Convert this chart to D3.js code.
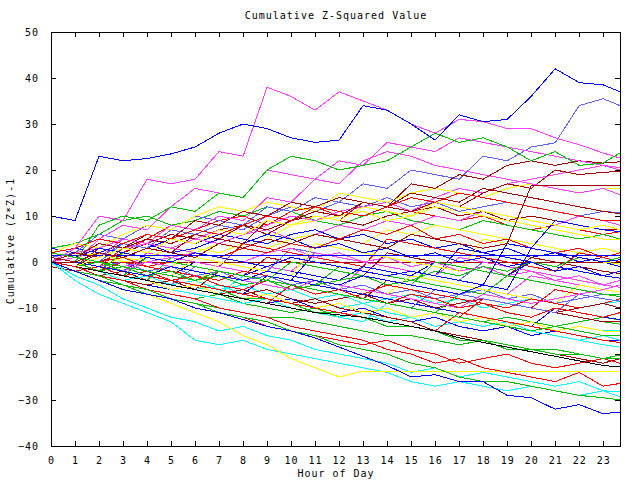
<!DOCTYPE html>
<html>
<head>
<meta charset="utf-8">
<script src="https://cdn.jsdelivr.net/npm/d3@7"></script>
<style>
  body { margin: 0; background: #fff; }
  text { font-family: "DejaVu Sans Mono", monospace; font-size: 10px; letter-spacing: 1px; fill: #000; }
  .trace { fill: none; stroke-width: 1; shape-rendering: crispEdges; }
</style>
</head>
<body>
<svg id="chart" width="640" height="480"></svg>
<script>
// hour of day for every sample
const hours = [0,1,2,3,4,5,6,7,8,9,10,11,12,13,14,15,16,17,18,19,20,21,22,23,23.7];
const hourTicks = d3.range(0, 24);
const valueTicks = [-40,-30,-20,-10,0,10,20,30,40,50];

// cumulative (Z*Z)-1 per hour, one array per trace
const blueTop     = [10,9,23,22,22.5,23.5,25,28,30,29,27,26,26.5,34,33,30,26.5,32,30.5,31,36,42,39,38.5,37];
const magentaTop  = [0,3,10,9,18,17,18,24,23,38,36,33,37,35,33,30,28,31,30.5,29,29,27,25.5,23.7,22.6];
const greenTop    = [1,0,8,10,9,12,11,15,14,20,23,22,20,21,22,25,28,26,27,25,22,24,21,21.5,23.7];
const blueMidTop  = [3,2,6,5,8,7,10,9,8,12,11,14,13,17,16,20,19,18,23,22,25,25.9,34,35.5,34];
const darkRedA    = [2,1,4,3,6,5,9,8,11,10,13,12,14,13,12,17,16,19,18,21,22,21,22,21.5,21.8];
const darkRedB    = [0,-1,2,1,3,2,6,5,4,9,8,10,9,13,12,11,13,12,15,17,16,20,19,19.5,19.7];
const darkRedJump = [1,0,2,1,3,2,1,4,3,5,4,6,5,4,3,6,5,4,3,4,16.6,16.6,16.6,16.6,16.6];
const magentaB    = [1,0,5,8,7,12,16,15,14,20,19,18,17,22,24,23,21,20,19,18,17,16,15,16,14.6];
const yellowA     = [2,4,3,6,8,7,10,12,11,13,12,11,15,14,13,15,16,15,14,16,17,16,15,16,16];
const blueMidB    = [1,2,1,4,3,7,6,8,7,10,12,11,13,12,14,12,13,11,12,13,12,11,10,11,10.7];
const redA        = [0,1,3,2,5,8,7,9,10,8,11,12,10,13,12,11,10,9,10,8,7,8,7,6,6.6];
const magentaC    = [0,2,1,3,4,3,5,7,6,8,10,9,11,12,13,11,14,16,15,17,18,19,20,21,20];
const greenB      = [3,4,6,9,10,8,9,11,10,12,11,9,8,10,11,9,8,7,9,8,7,6,5,6,5];
const redB        = [2,3,5,4,6,5,7,6,8,10,9,12,11,10,12,14,13,15,14,13,12,11,10,9,9];
const darkRedC    = [0,-1,0,2,4,6,5,7,8,6,9,10,9,8,10,11,12,10,11,9,10,9,8,7,7];
const darkRedFlat = [0,0,0,0,0,0,0,0,0,0,0,0,0,0,0,0,0,0,0,0,0,0,0,0,0];
const blueFlat    = [1.5,1.5,1.5,1.5,1.5,1.5,1.5,1.5,1.5,1.5,1.5,1.5,1.5,1.5,1.5,1.5,1.5,1.5,1.5,1.5,1.5,1.5,1.5,1.5,1.5];
const blueB       = [1,0,-1,-2,1,0,-1,-2,-3,-1,-2,-3,-4,-1,-2,-3,0,-1,-2,-3,0,-1,1,0,-1];
const redC        = [0,-1,-2,0,-1,-2,-3,-4,-2,-3,-4,-5,-6,-7,-5,-6,-7,-8,-9,-10,-8,-9,-10,-9,-8];
const magentaD    = [1,0,-1,-2,0,-1,-2,-3,-4,-5,-6,-4,-5,-6,-7,-8,-9,-10,-7,-8,-9,-8,-7,-6,-5];
const yellowB     = [1,0,-1,1,0,-1,3,2,4,3,5,6,5,4,7,6,8,7,6,5,4,3,2,3,2];
const cyanA       = [0,-2,-3,-4,-5,-6,-7,-8,-9,-8,-10,-11,-12,-11,-13,-12,-14,-13,-12,-13,-14,-15,-14,-15,-14.8];
const greenC      = [-1,-2,-4,-5,-6,-7,-8,-7,-9,-10,-11,-10,-12,-11,-13,-12,-11,-12,-13,-12,-13,-14,-13,-12,-12.6];
const darkRedD    = [0,-1,-3,-2,-4,-5,-6,-5,-7,-6,-8,-9,-8,-7,-9,-8,-10,-9,-8,-9,-10,-11,-10,-9,-10];
const cyanB       = [-1,-2,-3,-2,-4,-5,-4,-6,-5,-7,-6,-8,-7,-9,-8,-7,-9,-8,-10,-9,-8,-9,-10,-9,-8.6];
const blueC       = [0,-2,-3,-4,-5,-6,-5,-7,-8,-9,-8,-10,-11,-10,-12,-13,-12,-14,-15,-14,-16,-15,-16,-17,-17];
const redD        = [2,1,0,1,-1,0,2,1,3,2,4,3,5,7,6,8,5,6,4,5,3,2,3,1,2];
const magentaE    = [0,1,0,-1,0,1,2,1,0,2,3,1,2,0,1,-1,0,-2,-1,-3,-2,-4,-3,-5,-4];
const greenD      = [0,-1,0,-2,-3,-2,-4,-3,-5,-4,-6,-5,-4,-3,-5,-4,-2,-3,-1,-2,0,-1,1,0,1];
const blueD       = [2,3,2,4,3,5,4,6,5,4,6,7,5,6,4,5,3,4,2,3,1,2,0,1,0];
const yellowC     = [0,-1,-2,-3,-4,-6,-5,-7,-8,-7,-9,-10,-9,-11,-10,-12,-11,-13,-12,-14,-13,-15,-14,-15,-15];
const blueMidC    = [1,0,-1,0,-2,-1,-3,-2,-4,-3,-5,-4,-6,-5,-7,-6,-8,-7,-6,-8,-7,-9,-8,-7,-7];
const redE        = [0,-2,-1,-3,-2,-4,-3,-5,-6,-4,-5,-7,-6,-8,-9,-7,-8,-10,-9,-11,-12,-10,-11,-12,-11];
const cyanC       = [0,-1,-2,-4,-3,-5,-6,-5,-7,-8,-9,-8,-10,-9,-11,-12,-11,-13,-14,-13,-15,-16,-17,-16,-17];
const greenE      = [1,0,-2,-1,-3,-4,-5,-6,-8,-8,-9,-11,-11,-12,-14,-14,-15,-17,-17,-18,-19,-19,-20,-21,-21];
const redF        = [0,-2,-4,-5,-7,-8,-10,-11,-12,-14,-15,-16,-17,-18,-17,-19,-20,-22,-21,-20,-22,-23,-22,-21,-22];
const magentaF    = [1,2,3,2,4,3,5,4,6,7,5,6,8,7,9,8,10,9,11,10,9,8,10,9,8];
const darkRedE    = [-1,-2,-3,-4,-5,-4,-6,-7,-6,-8,-9,-8,-10,-11,-12,-13,-15,-16,-17,-18,-19,-20,-21,-22,-21];
const blueE       = [3,2,1,3,4,2,3,5,4,6,5,3,4,2,3,1,2,0,1,-1,0,-2,-1,-3,-2];
const yellowD     = [0,1,2,0,1,3,2,4,3,5,8,9,10,11,9,10,12,11,10,9,8,7,6,5,5];
const redG        = [1,0,-1,3,2,1,0,-1,4,3,2,1,0,-1,5,4,3,2,1,0,-1,-2,2,1,0];
const greenG      = [0,-1,-2,-3,-4,1,0,-1,-2,-3,-4,-5,-1,-2,-3,-4,-5,-6,-7,-3,-4,-5,-6,-7,-7.5];
const blueG       = [2,1,0,-1,-2,-3,0,-1,-2,-3,-4,2,1,0,-1,-2,-3,3,2,1,0,-1,-2,-3,-3.5];
const magentaG    = [1,0,-1,-2,2,1,0,-1,-2,-3,-4,-5,-6,-1,-2,-3,-4,-5,-6,-7,-3,-4,-5,-6,-6.5];
const cyanG       = [0,-1,-2,-3,-4,-5,-6,-7,-3,-4,-5,-6,-7,-8,-9,-10,-6,-7,-8,-9,-10,-11,-12,-13,-13.5];
const darkRedG    = [0,-1,3,2,1,0,-1,-2,-3,1,0,-1,-2,-3,2,1,0,-1,-2,-3,1,0,-1,-2,-2.5];
const yellowG     = [1,0,-1,-2,-3,-4,-5,0,-1,-2,-3,-4,-5,-6,-7,-3,-4,-5,-6,-7,-8,-9,-5,-6,-6.5];
const blueMidG    = [2,1,0,4,3,2,1,0,-1,-2,3,2,1,0,-1,-2,-3,-4,0,-1,-2,-3,-4,-5,-5.5];
const redH        = [0,-1,-2,-3,-4,-5,-6,-7,-8,-9,-5,-6,-7,-8,-9,-10,-11,-12,-8,-9,-10,-6,-7,-8,-8.5];
const greenH      = [0,-1,-2,-3,1,0,-1,-2,-3,-4,-5,-6,-7,-8,-9,-10,-11,-7,-8,-9,-10,-11,-12,-13,-13.5];
const blueH       = [1,0,-1,-2,-3,-4,-5,-6,-7,-3,-4,-5,-6,-7,-8,-9,-10,-11,-12,-13,-14,-10,-11,-12,-12.5];
const magentaH    = [3,2,1,5,4,3,2,1,0,-1,-2,2,1,0,-1,-2,-3,1,0,-1,-2,-3,-4,-5,-5.5];
const darkRedH    = [0,-1,-2,-3,-4,-5,-6,-2,-3,-4,-5,-6,-7,-8,-4,-5,-6,-7,-8,-9,-10,-11,-12,-13,-13];
const cyanH       = [0,-1,-2,-3,-4,-5,-6,-7,-8,-9,-10,-11,-12,-13,-9,-10,-11,-12,-13,-14,-15,-16,-17,-18,-18.5];
const yellowH     = [2,1,0,-1,-2,-3,1,0,-1,-2,-3,4,3,2,1,0,-1,-2,5,4,3,2,1,0,-0.5];
const blueMidH    = [0,-1,-2,-3,-4,-5,-1,-2,-3,-4,-5,-6,-7,-8,-9,-10,-6,-7,-8,-9,-10,-11,-7,-8,-8.5];
const redI        = [1,0,-1,-2,-3,-4,-5,-6,-7,-8,-9,-10,-11,-12,-13,-14,-15,-11,-12,-13,-14,-15,-16,-17,-17.5];
const greenI      = [0,-1,-2,2,1,0,-1,-2,-3,-4,0,-1,-2,-3,-4,-5,0,-1,-2,-3,-4,-5,-6,-7,-7];
const magentaI    = [0,1,3,5,4,8,7,10,9,14,13,18,22,21,26,25,24,27,26,25,24,23,22,21,20.5];
const blueI       = [1,0,-1,-2,-3,-1,-2,-3,-4,-2,-3,-4,-5,-3,-4,-5,-6,-7,-5,4,3,9,8,7,6.6];
const blueJ       = [2,1,3,2,1,0,2,1,0,-1,1,0,-1,-2,-3,-2,-3,-4,-5,-6,3,2,1,0,0.5];
const darkRedI    = [0,2,1,3,5,4,6,5,8,7,9,11,10,13,12,15,14,13,16,15,14,13,12,11,10.5];
const yellowI     = [0,-1,1,3,2,5,4,7,6,9,8,10,9,12,11,10,13,12,11,10,9,8,7,8,7];
const greenJ      = [2,1,0,-1,-2,-3,-4,-2,-3,-4,-5,-6,-7,-8,-9,-10,-11,-12,-13,-14,-15,-14,-15,-16,-16];
const blackLine   = [0,-1,-2,-3,-4,-5,-6,-7,-8,-9,-10,-11,-11.5,-12,-13,-14,-15,-16.5,-17.5,-18.5,-19.5,-20.5,-21.5,-22.5,-22.8];
const greenF      = [0,-2,-4,-5,-7,-8,-9,-10,-11,-12,-12,-13,-14,-15,-16,-16,-17,-18,-17,-19,-19,-20,-20,-21,-20.2];
const redLow      = [0,-1,-3,-4,-6,-7,-8,-10,-11,-12,-14,-15,-16,-17,-19,-20,-22,-21,-23,-24,-25,-26,-24,-27,-26.4];
const greenLow    = [0,-2,-3,-5,-6,-8,-9,-11,-12,-13,-15,-16,-18,-19,-20,-22,-23,-25,-26,-26,-27,-28,-29,-29.5,-30];
const cyanLowA    = [0,-4,-7,-9,-11,-13,-17,-18,-17,-19,-20,-21,-22,-23,-24,-26,-27,-26,-27,-28,-27,-28,-29,-28,-29.3];
const cyanLowB    = [0,-3,-5,-8,-10,-12,-13,-15,-14,-16,-17,-19,-20,-21,-22,-24,-23,-25,-24,-25,-26,-27,-26,-28,-28.2];
const yellowLow   = [0,-2,-4,-5,-7,-9,-11,-13,-16,-18,-21,-23,-25,-23.7,-23.7,-23.7,-23.7,-23.7,-23.7,-23.7,-23.7,-23.7,-23.7,-23.7,-23.7];
const navyBottom  = [0,-2,-4,-6,-7,-8,-10,-11,-12.5,-14,-15,-16.5,-18.5,-20.5,-22.5,-25,-24.5,-26,-26,-29,-29.5,-32,-31,-33,-32.6];

const red = "#ff0000", green = "#00c000", blue = "#0000ff", magenta = "#ff40ff",
      cyan = "#00ffff", darkRed = "#a00000", yellow = "#ffff00", midBlue = "#6060ff", black = "#000000";

// drawing order, later traces on top
const traces = [
  darkRedFlat, redA, greenB, blueD, magentaF, cyanB, darkRedC, yellowB, blueMidC,
  redG, greenG, blueG, magentaG, cyanG, darkRedG, yellowG, blueMidG,
  redC, greenC, blueB, magentaE, cyanA, darkRedD, yellowD, blueMidB,
  redH, greenH, blueH, magentaH, cyanH, darkRedH, yellowH, blueMidH,
  redD, greenD, blueC, magentaD, cyanC, darkRedE, yellowC, blueMidTop,
  redE, greenE, blueE, magentaC, cyanLowB, darkRedB, yellowA,
  redI, greenI, blueFlat, magentaB, cyanLowA, darkRedA, yellowLow,
  magentaI, blueI, blueJ, darkRedI, yellowI, greenJ,
  redF, greenF, blackLine, redB, redLow, greenLow, navyBottom,
  magentaTop, greenTop, darkRedJump, blueTop
];
const traceColors = [
  darkRed, red, green, blue, magenta, cyan, darkRed, yellow, midBlue,
  red, green, blue, magenta, cyan, darkRed, yellow, midBlue,
  red, green, blue, magenta, cyan, darkRed, yellow, midBlue,
  red, green, blue, magenta, cyan, darkRed, yellow, midBlue,
  red, green, blue, magenta, cyan, darkRed, yellow, midBlue,
  red, green, blue, magenta, cyan, darkRed, yellow,
  red, green, blue, magenta, cyan, darkRed, yellow,
  magenta, blue, blue, darkRed, yellow, green,
  red, green, black, red, red, green, blue,
  magenta, green, darkRed, blue
];

const svg = d3.select("#chart");
const plot = { left: 51, right: 620, top: 32, bottom: 446 };

const x = d3.scaleLinear().domain([0, 23.7]).range([plot.left, plot.right]);
const y = d3.scaleLinear().domain([-40, 50]).range([plot.bottom, plot.top]);

const line = d3.line()
  .x((d, i) => x(hours[i]))
  .y(d => y(d));

svg.append("clipPath").attr("id", "plot-clip")
  .append("rect")
  .attr("x", plot.left).attr("y", plot.top)
  .attr("width", plot.right - plot.left).attr("height", plot.bottom - plot.top);

svg.append("g")
  .attr("clip-path", "url(#plot-clip)")
  .selectAll("path")
  .data(traces)
  .join("path")
  .attr("class", "trace")
  .attr("stroke", (d, i) => traceColors[i])
  .attr("d", line);

// axes, ticks pointing inward on all four sides
const bottomAxis = d3.axisBottom(x).tickValues(hourTicks).tickSizeInner(-5).tickSizeOuter(0).tickPadding(11);
const topAxis = d3.axisTop(x).tickValues(hourTicks).tickSizeInner(-5).tickSizeOuter(0).tickFormat("");
const leftAxis = d3.axisLeft(y).tickValues(valueTicks).tickSizeInner(-5).tickSizeOuter(0).tickPadding(12);
const rightAxis = d3.axisRight(y).tickValues(valueTicks).tickSizeInner(-5).tickSizeOuter(0).tickFormat("");

function styleAxis(g) {
  g.select(".domain").remove();
  g.selectAll(".tick line").attr("stroke", "#000").attr("shape-rendering", "crispEdges");
  g.selectAll(".tick text").attr("fill", "#000");
  g.attr("font-family", null).attr("font-size", null);
}

svg.append("g").attr("transform", `translate(0,${plot.bottom})`).call(bottomAxis).call(styleAxis);
svg.append("g").attr("transform", `translate(0,${plot.top})`).call(topAxis).call(styleAxis);
svg.append("g").attr("transform", `translate(${plot.left},0)`).call(leftAxis).call(styleAxis);
svg.append("g").attr("transform", `translate(${plot.right},0)`).call(rightAxis).call(styleAxis);

svg.append("rect")
  .attr("x", plot.left).attr("y", plot.top)
  .attr("width", plot.right - plot.left).attr("height", plot.bottom - plot.top)
  .attr("fill", "none").attr("stroke", "#000")
  .attr("shape-rendering", "crispEdges");

svg.append("text")
  .attr("x", 336).attr("y", 19)
  .attr("text-anchor", "middle")
  .text("Cumulative Z-Squared Value");

svg.append("text")
  .attr("x", 336).attr("y", 477)
  .attr("text-anchor", "middle")
  .text("Hour of Day");

svg.append("text")
  .attr("transform", "translate(14,241) rotate(-90)")
  .attr("text-anchor", "middle")
  .text("Cumulative (Z*Z)-1");
</script>
</body>
</html>
